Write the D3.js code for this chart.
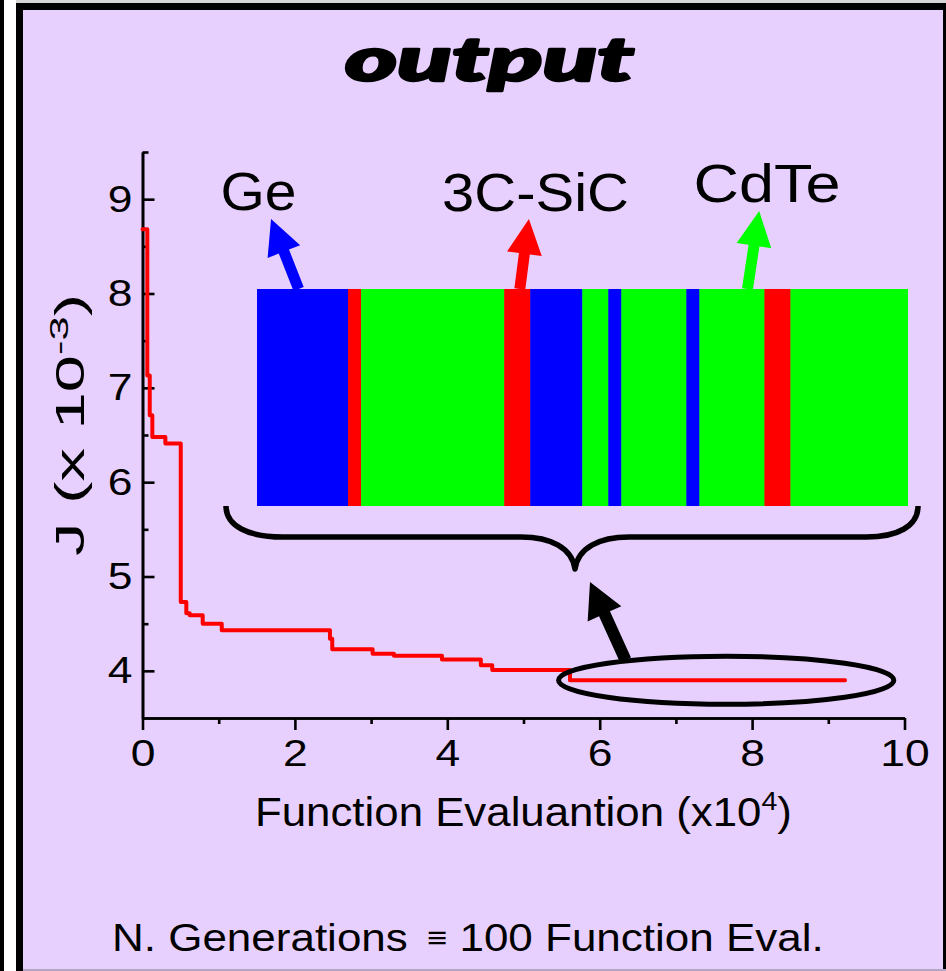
<!DOCTYPE html>
<html><head><meta charset="utf-8">
<script src="https://cdn.jsdelivr.net/npm/d3@7"></script>
<style>html,body{margin:0;padding:0;background:#fff;}svg{display:block}</style>
</head><body>
<svg id="c" width="946" height="971"></svg>
<script>
// ---------- DATA ----------
const evals = [0, 0.063, 0.095, 0.129, 0.30, 0.502, 0.575, 0.62, 0.79, 1.04, 2.46, 2.49, 3.02, 3.30, 3.93, 4.44, 4.59, 5.61, 9.22];
const Jvals = [8.68, 7.13, 6.71, 6.48, 6.41, 4.73, 4.61, 4.59, 4.50, 4.43, 4.34, 4.23, 4.18, 4.16, 4.12, 4.06, 4.01, 3.90, 3.90];
const xTicks = [0, 2, 4, 6, 8, 10];
const xMinor = [1, 3, 5, 7, 9];
const yTicks = [4, 5, 6, 7, 8, 9];
const yMinor = [4.5, 5.5, 6.5, 7.5, 8.5, 9.5];
const layerMaterials = ["Ge", "3C-SiC", "CdTe", "3C-SiC", "Ge", "CdTe", "Ge", "CdTe", "Ge", "CdTe", "3C-SiC", "CdTe"];
const layerCounts = [7, 1, 11, 2, 4, 2, 1, 5, 1, 5, 2, 9];
const materials = ["Ge", "3C-SiC", "CdTe"];
const materialArrowLayer = [3.2, 20.2, 37.7];   // layer where each label arrow starts
const materialArrowTipLayer = [1.08, 20.9, 38.6];
const highlight = {cx: 7.66, cy: 3.90, rx: 2.2, ry: 0.254};   // ellipse around final plateau (data units)

// ---------- STYLE / LAYOUT ----------
const bg = "#E8D0FE";
const matColor = {"Ge": "#0000ff", "3C-SiC": "#ff0000", "CdTe": "#00ff00"};
const font = "'Liberation Sans', Arial, sans-serif";
const svg = d3.select("#c");

// frame
svg.append("rect").attr("x",0).attr("y",0).attr("width",4).attr("height",971).attr("fill","#000");
svg.append("rect").attr("x",16).attr("y",0).attr("width",930).attr("height",3).attr("fill","#d6d6d6");
svg.append("rect").attr("x",16).attr("y",3).attr("width",930).attr("height",968).attr("fill","#000");
svg.append("rect").attr("x",23).attr("y",10).attr("width",920).attr("height",959).attr("fill",bg);
svg.append("rect").attr("x",23).attr("y",969).attr("width",923).attr("height",2).attr("fill","#b4a6c2");

function fit(sel, x, y, target, anchor, rot) {
  sel.attr("text-anchor", anchor).attr("x", 0).attr("y", 0);
  const w = sel.node().getBBox().width;
  const s = target / w;
  sel.attr("transform", `translate(${x},${y})${rot ? " rotate(-90)" : ""} scale(${s},1)`);
}

// title
const title = svg.append("text").text("output")
  .attr("font-family","Lato, Roboto, 'DejaVu Sans', sans-serif").attr("font-weight",900)
  .attr("font-style","italic").attr("font-size",60).attr("fill","#000")
  .attr("stroke","#000").attr("stroke-width",2.5).attr("stroke-linejoin","round");
fit(title, 345, 81, 289, "start");

// scales
const x = d3.scaleLinear().domain([0, 10]).range([142.5, 904.5]);
const y = d3.scaleLinear().domain([3.5, 9.5]).range([718, 152]);

// axes
const gx = svg.append("g").attr("transform", `translate(0,${y(3.5)})`)
  .call(d3.axisBottom(x).tickValues(xTicks).tickSize(12).tickSizeOuter(0).tickPadding(10).tickFormat(d3.format("d")));
const gxm = svg.append("g").attr("transform", `translate(0,${y(3.5)})`)
  .call(d3.axisBottom(x).tickValues(xMinor).tickSize(6).tickSizeOuter(0).tickFormat(""));
const gy = svg.append("g").attr("transform", `translate(${x(0)},0)`)
  .call(d3.axisLeft(y).tickValues(yTicks).tickSize(-12).tickSizeOuter(0).tickPadding(10).tickFormat(d3.format("d")));
const gym = svg.append("g").attr("transform", `translate(${x(0)},0)`)
  .call(d3.axisLeft(y).tickValues(yMinor).tickSize(-6).tickSizeOuter(0).tickFormat(""));
[gx, gxm, gy, gym].forEach(g => {
  g.selectAll("path,line").attr("stroke","#000").attr("stroke-width",2.6);
  g.selectAll("text").attr("font-family", font).attr("font-size", 37).attr("fill","#000");
});
gx.selectAll("text").each(function(){ const t=d3.select(this); t.attr("transform", `translate(0,${22}) scale(1.2,1)`).attr("y",0).attr("dy","0.71em"); });
gy.selectAll("text").each(function(){ const t=d3.select(this); t.attr("x",0).attr("transform", `translate(-10,0) scale(1.2,1)`); });

// axis titles
const xt = svg.append("text").attr("font-family", font).attr("font-size", 40).attr("fill","#000");
xt.append("tspan").text("Function Evaluantion (x10");
xt.append("tspan").text("4").attr("font-size", 26).attr("dy", -16);
xt.append("tspan").text(")").attr("dy", 16);
fit(xt, 255, 826, 537, "start");

const yt = svg.append("text").attr("font-family", font).attr("font-size", 40).attr("fill","#000");
yt.append("tspan").text("J (x 10");
yt.append("tspan").text("-3").attr("font-size", 26).attr("dy", -16);
yt.append("tspan").text(")").attr("dy", 16);
fit(yt, 84, 425, 262, "middle", true);

// curve
const line = d3.line().x((d,i)=>x(evals[i])).y((d,i)=>y(Jvals[i])).curve(d3.curveStepAfter);
svg.append("path").datum(Jvals).attr("d", line).attr("fill","none").attr("stroke","#ff0000")
  .attr("stroke-width",4).attr("stroke-linejoin","round").attr("stroke-linecap","round");

// ellipse around final region
svg.append("ellipse").attr("cx", x(highlight.cx)).attr("cy", y(highlight.cy))
  .attr("rx", x(highlight.cx + highlight.rx) - x(highlight.cx))
  .attr("ry", y(highlight.cy) - y(highlight.cy + highlight.ry))
  .attr("fill","none").attr("stroke","#000").attr("stroke-width",5);

// arrows
function arrowPts(x1,y1,x2,y2,sw,hl,hw){
  const dx=x2-x1, dy=y2-y1, L=Math.hypot(dx,dy), ux=dx/L, uy=dy/L, px=-uy, py=ux;
  const bx=x2-ux*hl, by=y2-uy*hl;
  return [[x1+px*sw/2,y1+py*sw/2],[bx+px*sw/2,by+py*sw/2],[bx+px*hw/2,by+py*hw/2],[x2,y2],
          [bx-px*hw/2,by-py*hw/2],[bx-px*sw/2,by-py*sw/2],[x1-px*sw/2,y1-py*sw/2]];
}
function drawArrow(p, color){
  svg.append("polygon").attr("points", p.map(q=>q.join(",")).join(" ")).attr("fill", color);
}
drawArrow(arrowPts(625.5, 660, 590, 582, 12, 35, 37), "#000");

// inset bar (layers)
const lx = d3.scaleLinear().domain([0, d3.sum(layerCounts)]).range([257, 907.5]);
const barTop = 289, barBot = 506;
let acc = 0;
const segs = layerMaterials.map((m,i)=>{ const s={m, a:acc, b:acc+layerCounts[i]}; acc+=layerCounts[i]; return s; });
svg.append("g").selectAll("rect").data(segs).join("rect")
  .attr("x", d=>lx(d.a)).attr("width", d=>lx(d.b)-lx(d.a)+0.5)
  .attr("y", barTop).attr("height", barBot-barTop).attr("fill", d=>matColor[d.m]);

// brace
const brace = "M226,506 C226,526 248,537 283,537 L521,537 C551,537 572,548 575,569 C578,548 599,537 629,537 L866,537 C898,537 918,526 918,506";
svg.append("path").attr("d", brace).attr("fill","none").attr("stroke","#000").attr("stroke-width",5.5)
  .attr("stroke-linejoin","round");

// material labels and arrows
const labelPos = [{x:258.5, y:210, w:76}, {x:535.5, y:211, w:187}, {x:767, y:202, w:147}];
const tipY = [219, 219, 211];
materials.forEach((m,i)=>{
  drawArrow(arrowPts(lx(materialArrowLayer[i]), barTop, lx(materialArrowTipLayer[i]), tipY[i], 11, 35, 35), matColor[m]);
  const t = svg.append("text").text(m).attr("font-family", font).attr("font-size", 54).attr("fill","#000");
  fit(t, labelPos[i].x, labelPos[i].y, labelPos[i].w, "middle");
});

// bottom note
const note = svg.append("text").attr("font-family", font).attr("font-size", 38).attr("fill","#000");
note.append("tspan").text("N. Generations ");
note.append("tspan").text("\u2261").attr("font-size", 30).attr("dx", 6).attr("dy", -3);
note.append("tspan").text(" 100 Function Eval.").attr("dy", 3);
fit(note, 112, 951, 712, "start");
</script>
</body></html>
